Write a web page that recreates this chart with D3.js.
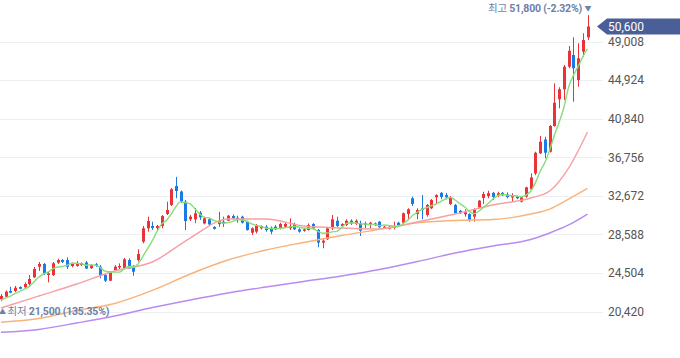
<!DOCTYPE html>
<html><head><meta charset="utf-8">
<script src="https://cdn.jsdelivr.net/npm/d3@7"></script>
<style>body{margin:0;background:#fff}svg{display:block}</style>
</head><body><svg id="c" width="680" height="358"></svg>
<script>
const open  = [21710,21990,22590,22590,23010,22980,23330,24040,25160,25450,24280,24280,25590,25870,25870,25240,25240,25340,25610,25010,25420,25160,24280,23680,24810,25100,24970,25870,25240,25870,27810,29230,29470,29260,29470,30740,31700,33710,33120,32050,30180,30180,30880,29740,30180,29380,29670,29930,30030,30530,30350,30460,29930,28760,28870,29230,29400,29290,29400,29230,29400,29230,29690,29120,28980,29050,29690,29050,27710,28070,29230,30030,29470,29580,30030,29690,29740,29740,29580,29580,29930,29230,29170,29260,29820,29820,30740,32410,30740,31350,30640,31350,32510,32980,32740,31800,31700,31090,30710,30740,30460,31440,32440,32650,32980,32720,32980,32810,32510,32650,32050,32580,33360,35040,37170,38630,37340,40060,42890,43950,46340,47580,44930,47930,49450];
const high  = [22270,22640,23050,23120,23090,23510,24280,25130,25660,25560,24600,25660,26010,25980,26160,25590,25770,25610,25770,25450,25560,25340,24390,24710,25340,25520,26090,26050,25340,27010,29470,30460,29930,29580,30640,32050,33500,34670,33230,32230,30640,31380,31060,30460,30290,29450,30980,30460,30640,30710,30560,30560,30030,29340,29690,29530,29580,29420,29580,29820,29820,30290,29820,29230,29230,29740,29770,29160,28070,29380,30640,30460,29770,30180,30180,30180,30030,29930,29900,29840,30000,29470,29470,29930,29930,30900,31350,32580,31350,32750,31800,32330,32840,33080,32980,32650,31800,31170,31240,30820,31350,32230,33100,33210,33070,33100,33070,33030,32940,32690,32580,33630,35040,37340,39000,38930,40170,44580,44160,46520,48530,49450,48820,49880,51800];
const low   = [21500,21900,22350,22480,22770,22910,23150,23970,24710,24280,23510,24180,25450,25560,24920,25100,25160,25240,24920,24920,25130,23940,23540,23650,24710,24810,24920,24920,24210,25690,27640,28870,29050,28980,29230,30640,31590,32410,31910,29050,30000,29770,30110,29640,29560,29100,29380,29380,30000,30180,29820,29740,28980,28520,28680,29120,28870,28600,29050,29120,29340,29050,29050,28760,28870,28980,29100,27220,27110,27990,29050,29340,29350,29470,29580,29580,28410,29230,29230,29470,29260,29160,29100,29120,29400,29740,30180,31590,30180,30180,30460,31260,31800,32310,32280,31700,30740,30740,30460,29930,29930,31380,31800,32410,32230,32550,32650,32410,32050,32310,31960,32470,33290,34860,37100,36640,37260,39990,41940,42810,46170,42630,44220,47400,49170];
const close = [22060,22520,22410,22940,22830,23330,23860,24920,25450,24390,24460,25520,25870,25660,25160,25450,25520,25520,24970,25310,25240,24280,23680,24570,25160,25240,25950,24970,24630,26510,29230,30000,29260,29470,30530,31170,33360,33180,32050,30000,30460,30820,30390,30290,29640,29170,30030,29740,30560,30290,30110,29820,29050,29230,29470,29470,29050,28870,29120,29690,29690,29470,29120,28870,29120,29580,29230,27710,27920,29230,30180,29470,29690,30030,29740,30030,28980,29580,29820,29740,29340,29400,29400,29470,29550,30820,31240,31800,31170,31170,31700,32230,32740,32550,32510,32510,30820,30820,30920,30110,31170,32150,32860,32940,32550,32940,32720,32550,32650,32410,32510,33570,34610,37230,38400,37230,40060,42530,43950,46340,48030,46170,47230,49170,50600];
const priorCloses = [21300,21450,21550,21700];

const maIdx  = [0,8,16,24,32,40,48,56,64,72,80,88,96,104,112,116,120,124];
const ma20   = [20790,22060,23330,24710,25660,28200,30210,30210,29470,29260,29160,29900,30740,31700,32440,33180,35610,39430];
const ma60   = [19280,19680,20530,21270,22650,24390,25870,26930,27730,28470,29120,29820,30060,30160,30740,31270,32330,33460];
const ma120  = [18220,18520,19200,19940,20840,21640,22380,23010,23600,24180,24870,25710,26610,27360,28040,28730,29580,30740];

const yTicks = [20420,24504,28588,32672,36756,40840,44924,49008];
const lastPrice = 50600, highPrice = 51800, highPct = "-2.32%", lowPrice = 21500, lowPct = "135.35%";

const svg = d3.select("#c");
const n = close.length;
const x = d3.scaleLinear().domain([0, n - 1]).range([1, 587.5]);
const y = d3.scaleLinear().domain([20420, 49008]).range([311.5, 41.5]);
const fmt = d3.format(",");
const UP = "#ea3338", DOWN = "#1a7be6";
const FONT = "Roboto,'Noto Sans CJK KR',sans-serif";
const LCOL = "#6e7fa8";

// grid
svg.append("g").selectAll("line").data(yTicks).join("line")
  .attr("x1", 0).attr("x2", 603)
  .attr("y1", d => Math.round(y(d)) + 0.5).attr("y2", d => Math.round(y(d)) + 0.5)
  .attr("stroke", "#eceff3").attr("stroke-width", 1);

// right axis
const ax = svg.append("g").attr("transform", "translate(603,0)")
  .call(d3.axisRight(y).tickValues(yTicks).tickFormat(fmt).tickSize(0).tickPadding(5));
ax.select(".domain").remove();
ax.selectAll("text").attr("font-family", FONT).attr("font-size", 12).attr("fill", "#555");

// candles
const idx = d3.range(n);
const cg = svg.append("g");
cg.selectAll("line").data(idx).join("line")
  .attr("x1", i => Math.round(x(i)) + 0.5).attr("x2", i => Math.round(x(i)) + 0.5)
  .attr("y1", i => y(high[i])).attr("y2", i => y(low[i]))
  .attr("stroke", i => close[i] >= open[i] ? UP : DOWN).attr("stroke-width", 1);
cg.selectAll("rect").data(idx).join("rect")
  .attr("x", i => Math.round(x(i)) - 1).attr("width", 3)
  .attr("y", i => Math.min(y(open[i]), y(close[i])))
  .attr("height", i => Math.max(1.5, Math.abs(y(open[i]) - y(close[i]))))
  .attr("fill", i => close[i] >= open[i] ? UP : DOWN);

// moving averages
const line = d3.line().curve(d3.curveMonotoneX);
const all = priorCloses.concat(close);
const ma5 = idx.map(i => d3.mean(all.slice(i, i + 5)));
const drawMA = (vals, xs, color) => svg.append("path")
  .attr("d", line(vals.map((v, k) => [x(xs[k]), y(v)])))
  .attr("fill", "none").attr("stroke", color).attr("stroke-width", 1.4);
drawMA(ma120, maIdx, "#b98af2");
drawMA(ma60, maIdx, "#f9b27a");
drawMA(ma20, maIdx, "#f6a0a3");
drawMA(ma5, idx, "#86de78");

// last price tag
const ty = y(lastPrice);
svg.append("path")
  .attr("d", `M597,${ty} L607,${ty - 8} L680,${ty - 8} L680,${ty + 8} L607,${ty + 8} Z`)
  .attr("fill", "#4a5e98");
svg.append("text").attr("x", 608).attr("y", ty).attr("dy", "0.35em")
  .attr("font-family", FONT).attr("font-size", 12).attr("fill", "#fff").text(fmt(lastPrice));

// high label
const ht = svg.append("text").attr("x", 582).attr("y", 8.5).attr("dy", "0.35em")
  .attr("text-anchor", "end").attr("font-family", FONT).attr("font-size", 10.5)
  .attr("letter-spacing", -0.2).attr("fill", LCOL);
ht.append("tspan").text("최고 ");
ht.append("tspan").attr("font-weight", "bold").text(`${fmt(highPrice)} (${highPct})`);
svg.append("text").attr("x", 588).attr("y", 8.5).attr("dy", "0.35em").attr("text-anchor", "middle")
  .attr("font-family", FONT).attr("font-size", 7).attr("fill", LCOL).text("▼");

// low label
svg.append("text").attr("x", 2.5).attr("y", 311.5).attr("dy", "0.35em").attr("text-anchor", "middle")
  .attr("font-family", FONT).attr("font-size", 7).attr("fill", LCOL).text("▲");
const lt = svg.append("text").attr("x", 7.5).attr("y", 311.5).attr("dy", "0.35em")
  .attr("font-family", FONT).attr("font-size", 10.5).attr("letter-spacing", -0.2).attr("fill", LCOL);
lt.append("tspan").text("최저 ");
lt.append("tspan").attr("font-weight", "bold").text(`${fmt(lowPrice)} (${lowPct})`);
</script></body></html>
